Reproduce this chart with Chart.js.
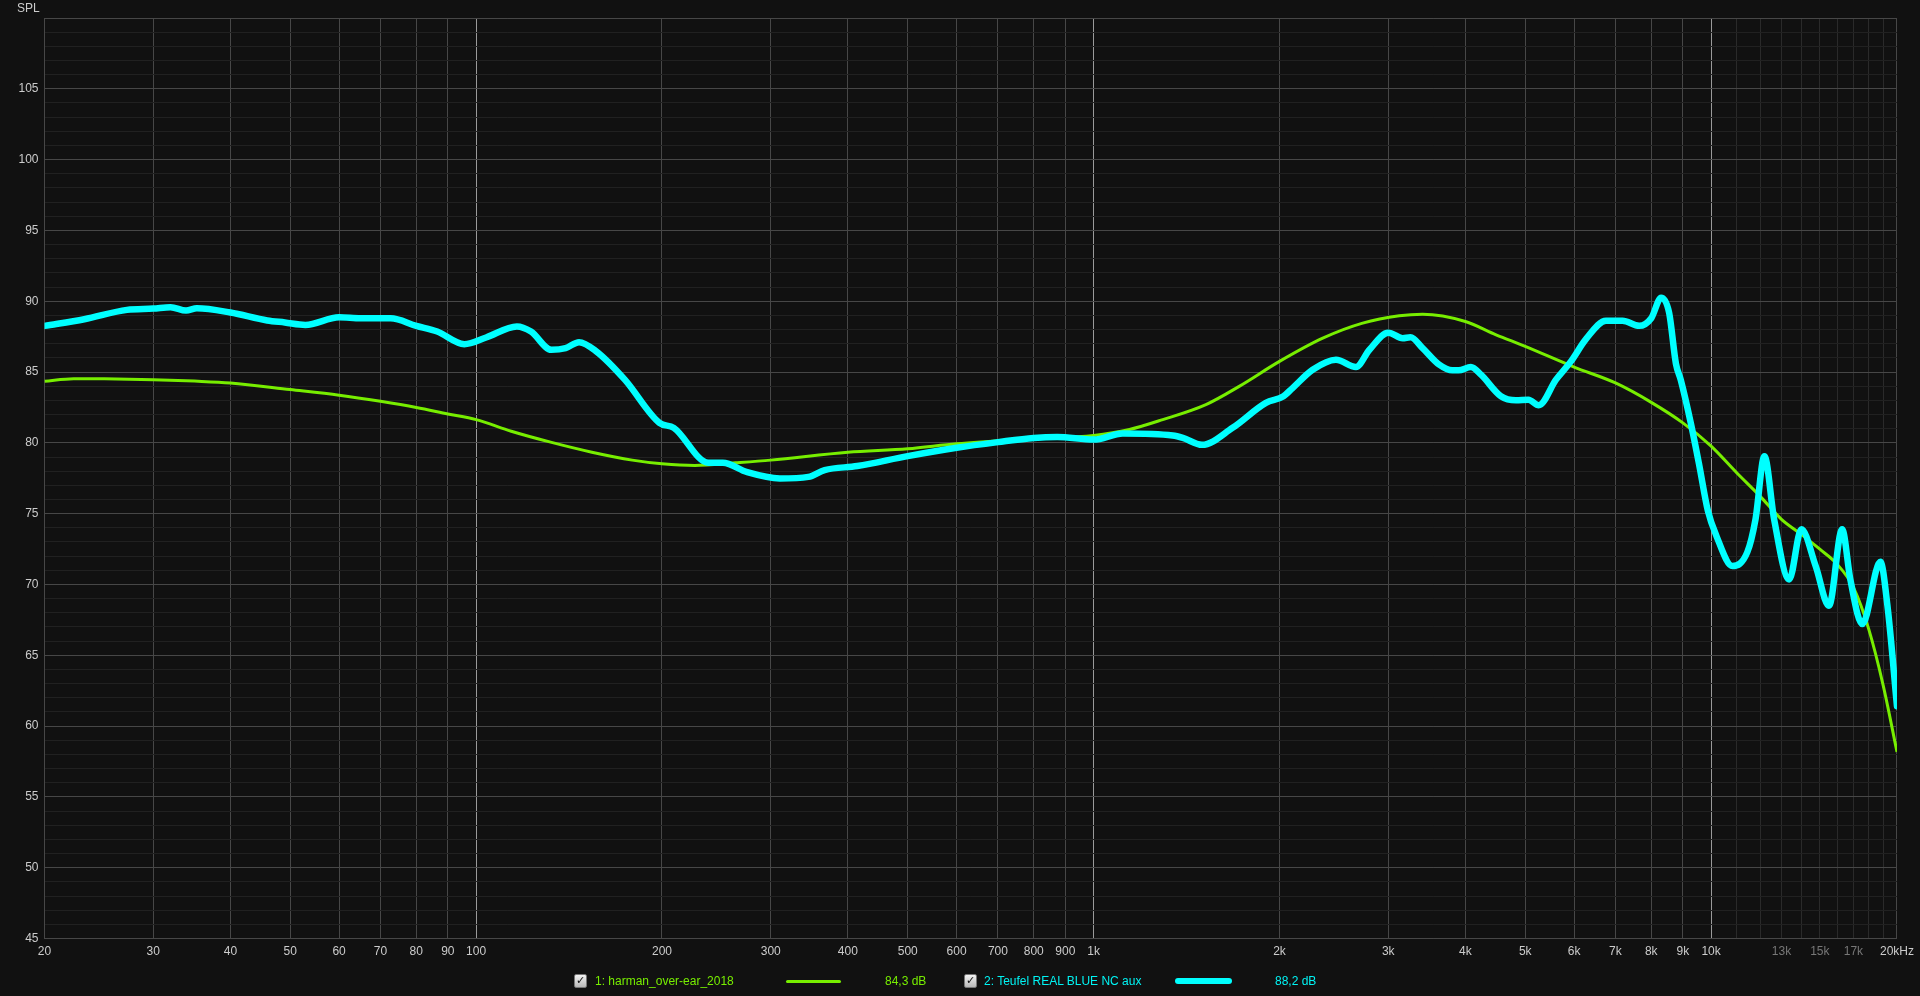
<!DOCTYPE html>
<html>
<head>
<meta charset="utf-8">
<script src="https://cdn.jsdelivr.net/npm/chart.js@4.4.0/dist/chart.umd.min.js"></script>
<style>
  html, body { margin: 0; padding: 0; background: #111111; overflow: hidden; }
  #wrap { position: relative; width: 1920px; height: 996px; }
  canvas { position: absolute; left: 0; top: 0; }
  .lbl { position: absolute; font-family: "Liberation Sans", Arial, sans-serif; font-size: 12px; line-height: 14px; white-space: nowrap; }
  .chk { position: absolute; width: 11px; height: 12px; border: 1px solid #777; border-radius: 2px;
         background: linear-gradient(#f4f4f4, #b8b8b8); color: #111; font: bold 11px/12px "DejaVu Sans", sans-serif; text-align: center; }
  .swatch { position: absolute; border-radius: 2px; }
</style>
</head>
<body>
<div id="wrap">
  <canvas id="fr" width="1920" height="996"></canvas>
  <div class="lbl" style="left:17px; top:1px; color:#cccccc;">SPL</div>

  <div class="chk" style="left:574px; top:974px;">✓</div>
  <div class="lbl" style="left:595px; top:974px; color:#77ee00;">1: harman_over-ear_2018</div>
  <div class="swatch" style="left:786px; top:980px; width:55px; height:3px; background:#77ee00;"></div>
  <div class="lbl" style="left:885px; top:974px; color:#77ee00;">84,3 dB</div>

  <div class="chk" style="left:964px; top:974px;">✓</div>
  <div class="lbl" style="left:984px; top:974px; color:#00f4f4;">2: Teufel REAL BLUE NC aux</div>
  <div class="swatch" style="left:1175px; top:978px; width:57px; height:6px; background:#00ffff; border-radius:3px;"></div>
  <div class="lbl" style="left:1275px; top:974px; color:#00f4f4;">88,2 dB</div>
</div>
<script>
// harman over-ear 2018 target (green)
const harmanFreq = [20, 22.3, 25, 30, 35, 40, 50, 60, 70, 80, 90, 100, 114, 132, 154, 179, 200, 226, 263, 300,
  400, 500, 600, 800, 1000, 1143, 1294, 1520, 1721, 2000, 2350, 2727, 3126, 3410, 4000, 4485, 5000, 6000,
  7000, 8000, 9000, 10000, 11000, 12000, 13000, 14000, 15000, 16000, 17000, 18000, 19000, 20000];
const harmanDb = [84.35, 84.53, 84.52, 84.46, 84.36, 84.23, 83.76, 83.36, 82.93, 82.5, 82.04, 81.64, 80.82, 80.05, 79.34, 78.78, 78.52, 78.4, 78.59, 78.78,
  79.34, 79.58, 79.93, 80.28, 80.52, 80.94, 81.64, 82.7, 83.99, 85.75, 87.39, 88.45, 88.97, 89.08, 88.57, 87.63, 86.81, 85.35,
  84.23, 82.86, 81.41, 79.77, 77.89, 76.24, 74.6, 73.54, 72.49, 71.43, 69.79, 66.85, 62.86, 58.17];

// Teufel REAL BLUE NC aux (cyan)
const teufelFreq = [20, 23.2, 27.2, 30, 32, 33.9, 35.3, 40, 45.9, 49, 52.9, 60, 65, 72.7, 80, 86.5, 95.7, 103.8, 116.4, 122.7,
  132.4, 139.6, 146.8, 156.5, 174.1, 198.1, 209, 237.8, 250.9, 274.8, 310.4, 345.2, 366.8, 414.3, 500, 600, 700, 800, 873, 1000,
  1115, 1343, 1395, 1498, 1679, 1901, 2030, 2100, 2263, 2469, 2660, 2797, 3000, 3166, 3260, 3410, 3628, 3810, 3900, 4083,
  4240, 4567, 4830, 5060, 5258, 5608, 5930, 6270, 6757, 7187, 7646, 8000, 8300, 8550, 8770, 8930, 9270, 9560, 9880, 10200,
  10830, 11450, 11800, 12200, 12650, 13380, 14000, 14770, 15520, 16300, 16800, 17570, 18800, 19300, 20000];
const teufelDb = [88.26, 88.73, 89.39, 89.48, 89.58, 89.34, 89.5, 89.2, 88.64, 88.5, 88.33, 88.87, 88.8, 88.8, 88.26, 87.86, 86.97, 87.44, 88.22, 87.86,
  86.57, 86.69, 87.11, 86.46, 84.46, 81.41, 81.06, 78.59, 78.59, 77.93, 77.49, 77.6, 78.08, 78.36, 79.06, 79.65, 80.05, 80.35, 80.42, 80.23,
  80.66, 80.52, 80.35, 79.86, 81.06, 82.82, 83.29, 83.87, 85.16, 85.87, 85.35, 86.57, 87.78, 87.39, 87.46, 86.69, 85.52, 85.12, 85.12, 85.35,
  84.81, 83.29, 83.0, 83.05, 82.65, 84.46, 85.75, 87.32, 88.62, 88.62, 88.26, 88.8, 90.25, 89.2, 85.6, 84.45, 81.4, 78.5, 75.2, 73.43,
  71.3, 72.3, 74.6, 79.06, 74.6, 70.35, 73.9, 71.3, 68.5, 73.9, 70.4, 67.2, 71.6, 68.5, 61.4];

// x grid / tick positions and their labels
const xTicks = [20, 30, 40, 50, 60, 70, 80, 90, 100, 200, 300, 400, 500, 600, 700, 800, 900, 1000,
  2000, 3000, 4000, 5000, 6000, 7000, 8000, 9000, 10000, 11000, 12000, 13000, 14000, 15000, 16000, 17000, 18000, 19000, 20000];
const xTickLabels = ["20", "30", "40", "50", "60", "70", "80", "90", "100", "200", "300", "400", "500", "600", "700", "800", "900", "1k",
  "2k", "3k", "4k", "5k", "6k", "7k", "8k", "9k", "10k", "", "", "13k", "", "15k", "", "17k", "", "", "20kHz"];
const yMin = 45, yMax = 110;

const toPoints = (fs, vs) => fs.map((f, i) => ({ x: f, y: vs[i] }));

const majorGrid = "#474747";
const minorGrid = "#212121";
const decadeGrid = "#9a9a9a";

new Chart(document.getElementById("fr"), {
  type: "line",
  data: {
    datasets: [
      {
        label: "1: harman_over-ear_2018",
        data: toPoints(harmanFreq, harmanDb),
        borderColor: "#77ee00",
        borderWidth: 3,
        pointRadius: 0,
        cubicInterpolationMode: "monotone",
        order: 2,
      },
      {
        label: "2: Teufel REAL BLUE NC aux",
        data: toPoints(teufelFreq, teufelDb),
        borderColor: "#00ffff",
        borderWidth: 6.5,
        pointRadius: 0,
        cubicInterpolationMode: "monotone",
        borderCapStyle: "round",
        borderJoinStyle: "round",
        order: 1,
      },
    ],
  },
  options: {
    responsive: false,
    animation: false,
    layout: { padding: { top: 18, right: 21, left: 0, bottom: 0 } },
    plugins: { legend: { display: false }, tooltip: { enabled: false } },
    scales: {
      x: {
        type: "logarithmic",
        min: 20,
        max: 20000,
        afterBuildTicks: (s) => { s.ticks = xTicks.map((v) => ({ value: v })); },
        afterFit: (s) => { s.height = 57.5; },
        ticks: {
          autoSkip: false,
          maxRotation: 0,
          padding: 6,
          font: { family: "'Liberation Sans', Arial, sans-serif", size: 12 },
          color: (c) => {
            const v = c.tick && c.tick.value;
            return v > 10000 && v < 20000 ? "#777777" : "#cccccc";
          },
          callback: (v) => xTickLabels[xTicks.indexOf(v)] ?? "",
        },
        grid: {
          drawTicks: false,
          color: (c) => {
            const v = c.tick && c.tick.value;
            if (v === 100 || v === 1000 || v === 10000) return decadeGrid;
            if (v > 10000 && v < 20000) return "#2a2a2a";
            return majorGrid;
          },
        },
        border: { color: majorGrid },
      },
      y: {
        min: yMin,
        max: yMax,
        afterBuildTicks: (s) => {
          const t = [];
          for (let v = yMin; v <= yMax; v++) t.push({ value: v });
          s.ticks = t;
        },
        afterFit: (s) => { s.width = 44.5; },
        ticks: {
          autoSkip: false,
          padding: 6,
          font: { family: "'Liberation Sans', Arial, sans-serif", size: 12 },
          color: "#cccccc",
          callback: (v) => (v % 5 === 0 && v < yMax ? String(v) : ""),
        },
        grid: {
          drawTicks: false,
          color: (c) => (c.tick && c.tick.value % 5 === 0 ? majorGrid : minorGrid),
        },
        border: { color: majorGrid },
      },
    },
  },
});
</script>
</body>
</html>
